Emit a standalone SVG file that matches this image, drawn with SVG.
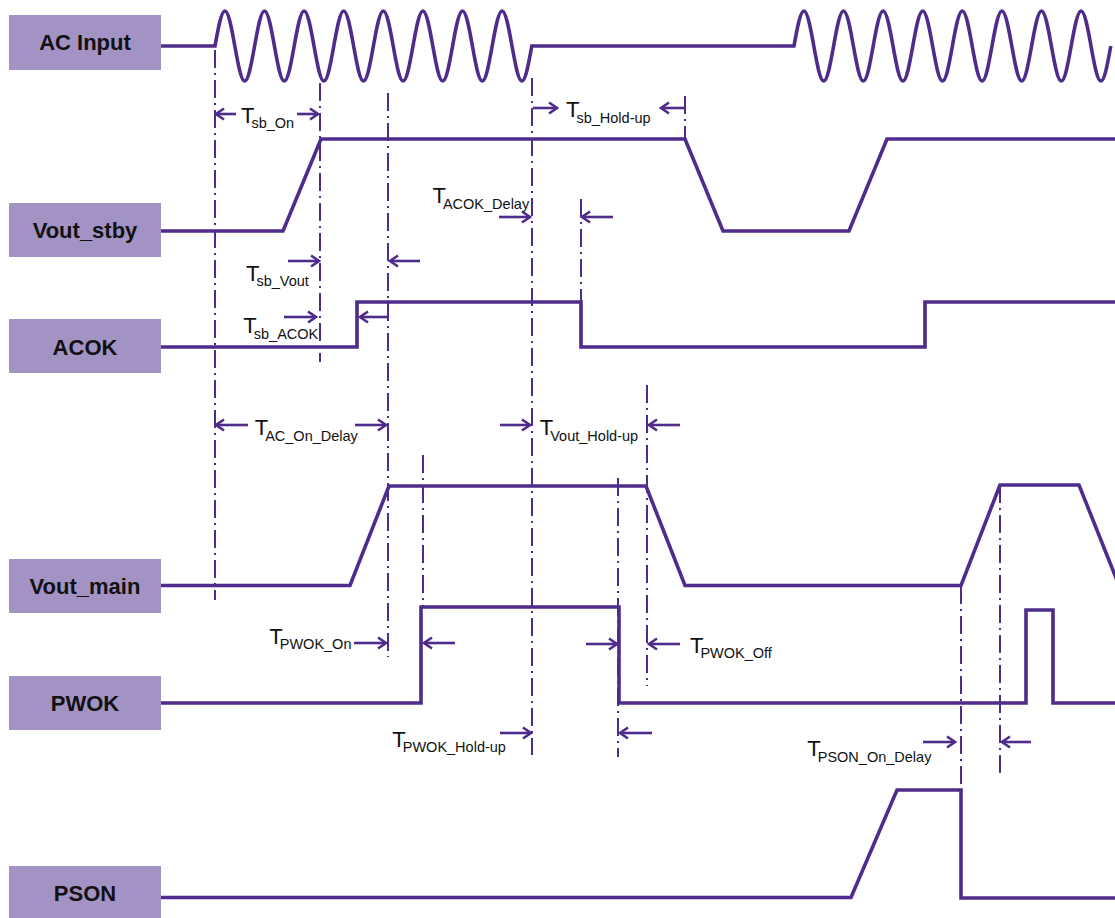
<svg xmlns="http://www.w3.org/2000/svg" width="1115" height="918" viewBox="0 0 1115 918">
<defs>
<style>
.box{fill:#a393c5}
.lbl{font-family:"Liberation Sans",Arial,sans-serif;font-weight:bold;font-size:22px;fill:#111;text-anchor:middle}
.sig{fill:none;stroke:#4f2c8c;stroke-width:3.6;stroke-linejoin:miter}
.guide{fill:none;stroke:#4f2c8c;stroke-width:2;stroke-dasharray:18 5 2 5}
.arr{fill:none;stroke:#4f2c8c;stroke-width:2.6;marker-end:url(#ah)}
.t{font-family:"Liberation Sans",Arial,sans-serif;font-size:22px;fill:#111;letter-spacing:-3px}
.s{font-size:14.5px;letter-spacing:0}
</style>
<marker id="ah" markerUnits="userSpaceOnUse" viewBox="-10 -7 12 14" refX="0" refY="0" markerWidth="12" markerHeight="14" orient="auto">
<path d="M-8,-5.5 L0,0 L-8,5.5" fill="none" stroke="#4f2c8c" stroke-width="2.6"/>
</marker>
</defs>
<rect width="1115" height="918" fill="#fff"/>

<g id="node-ac-input"><rect class="box" x="9" y="15" width="152" height="55"/><text class="lbl" x="85" y="50">AC Input</text></g>
<g id="node-vout-stby"><rect class="box" x="9" y="203" width="152" height="54"/><text class="lbl" x="85" y="238">Vout_stby</text></g>
<g id="node-acok"><rect class="box" x="9" y="319" width="152" height="54"/><text class="lbl" x="85" y="355">ACOK</text></g>
<g id="node-vout-main"><rect class="box" x="9" y="559" width="152" height="54"/><text class="lbl" x="85" y="594">Vout_main</text></g>
<g id="node-pwok"><rect class="box" x="9" y="676" width="152" height="54"/><text class="lbl" x="85" y="711">PWOK</text></g>
<g id="node-pson"><rect class="box" x="9" y="866" width="152" height="52"/><text class="lbl" x="85" y="901">PSON</text></g>

<g id="signals">
<path id="sig-ac" class="sig" d="M161,46 H215 c3.23,-17.93 6.315,-35 9.9,-35 s6.67,17.07 9.9,35 s6.315,35 9.9,35 s6.67,-17.07 9.9,-35
s6.315,-35 9.9,-35 s6.67,17.07 9.9,35 s6.315,35 9.9,35 s6.67,-17.07 9.9,-35
s6.315,-35 9.9,-35 s6.67,17.07 9.9,35 s6.315,35 9.9,35 s6.67,-17.07 9.9,-35
s6.315,-35 9.9,-35 s6.67,17.07 9.9,35 s6.315,35 9.9,35 s6.67,-17.07 9.9,-35
s6.315,-35 9.9,-35 s6.67,17.07 9.9,35 s6.315,35 9.9,35 s6.67,-17.07 9.9,-35
s6.315,-35 9.9,-35 s6.67,17.07 9.9,35 s6.315,35 9.9,35 s6.67,-17.07 9.9,-35
s6.315,-35 9.9,-35 s6.67,17.07 9.9,35 s6.315,35 9.9,35 s6.67,-17.07 9.9,-35
s6.315,-35 9.9,-35 s6.67,17.07 9.9,35 s6.315,35 9.9,35 s6.67,-17.07 9.9,-35
H794 c3.23,-17.93 6.315,-35 9.9,-35 s6.67,17.07 9.9,35 s6.315,35 9.9,35 s6.67,-17.07 9.9,-35
s6.315,-35 9.9,-35 s6.67,17.07 9.9,35 s6.315,35 9.9,35 s6.67,-17.07 9.9,-35
s6.315,-35 9.9,-35 s6.67,17.07 9.9,35 s6.315,35 9.9,35 s6.67,-17.07 9.9,-35
s6.315,-35 9.9,-35 s6.67,17.07 9.9,35 s6.315,35 9.9,35 s6.67,-17.07 9.9,-35
s6.315,-35 9.9,-35 s6.67,17.07 9.9,35 s6.315,35 9.9,35 s6.67,-17.07 9.9,-35
s6.315,-35 9.9,-35 s6.67,17.07 9.9,35 s6.315,35 9.9,35 s6.67,-17.07 9.9,-35
s6.315,-35 9.9,-35 s6.67,17.07 9.9,35 s6.315,35 9.9,35 s6.67,-17.07 9.9,-35
s6.315,-35 9.9,-35 s6.67,17.07 9.9,35 s6.315,35 9.9,35 s6.67,-17.07 9.9,-35"/>
<path id="sig-vout-stby" class="sig" d="M161,231 H283 L321,139 H685 L723,231 H849 L887,139 H1115"/>
<path id="sig-acok" class="sig" d="M161,347 H357 V302 H581 V347 H925 V302 H1115"/>
<path id="sig-vout-main" class="sig" d="M161,585.5 H350 L389,486 H646 L685,585.5 H961 L1000,485 H1079 L1120,588"/>
<path id="sig-pwok" class="sig" d="M161,703 H421 V607 H619 V703 H1026 V610 H1053 V703 H1115"/>
<path id="sig-pson" class="sig" d="M161,897.5 H851 L897,790 H961 V898 H1115"/>
</g>

<g id="connectors">
<g id="guides">
<line class="guide" x1="215" y1="50" x2="215" y2="600"/>
<line class="guide" x1="320" y1="83" x2="320" y2="362"/>
<line class="guide" x1="388" y1="93" x2="388" y2="657"/>
<line class="guide" x1="532" y1="78" x2="532" y2="755"/>
<line class="guide" x1="685" y1="96" x2="685" y2="138"/>
<line class="guide" x1="581" y1="199" x2="581" y2="302"/>
<line class="guide" x1="423" y1="455" x2="423" y2="606"/>
<line class="guide" x1="618" y1="478" x2="618" y2="757"/>
<line class="guide" x1="647" y1="385" x2="647" y2="686"/>
<line class="guide" x1="961" y1="586" x2="961" y2="790"/>
<line class="guide" x1="1000" y1="485" x2="1000" y2="778"/>
</g>
<g id="arrows">
<line class="arr" x1="236" y1="114" x2="216" y2="114"/>
<line class="arr" x1="297" y1="114" x2="318" y2="114"/>
<line class="arr" x1="533" y1="108" x2="557" y2="108"/>
<line class="arr" x1="685" y1="108" x2="661" y2="108"/>
<line class="arr" x1="499" y1="217" x2="530" y2="217"/>
<line class="arr" x1="613" y1="217" x2="582" y2="217"/>
<line class="arr" x1="288" y1="261" x2="319" y2="261"/>
<line class="arr" x1="420" y1="261" x2="390" y2="261"/>
<line class="arr" x1="284" y1="317" x2="316" y2="317"/>
<line class="arr" x1="388" y1="317" x2="360" y2="317"/>
<line class="arr" x1="248" y1="425" x2="216" y2="425"/>
<line class="arr" x1="355" y1="425" x2="386" y2="425"/>
<line class="arr" x1="500" y1="425" x2="530" y2="425"/>
<line class="arr" x1="680" y1="425" x2="649" y2="425"/>
<line class="arr" x1="354" y1="643" x2="386" y2="643"/>
<line class="arr" x1="455" y1="643" x2="424" y2="643"/>
<line class="arr" x1="586" y1="644" x2="617" y2="644"/>
<line class="arr" x1="680" y1="644" x2="649" y2="644"/>
<line class="arr" x1="500" y1="733" x2="531" y2="733"/>
<line class="arr" x1="652" y1="733" x2="620" y2="733"/>
<line class="arr" x1="923" y1="742" x2="955" y2="742"/>
<line class="arr" x1="1031" y1="742" x2="1002" y2="742"/>
</g>
</g>

<g id="timing-labels">
<text class="t" x="241" y="122.5">T<tspan class="s" dy="5">sb_On</tspan></text>
<text class="t" x="566" y="117">T<tspan class="s" dy="6">sb_Hold-up</tspan></text>
<text class="t" x="432.5" y="202.7">T<tspan class="s" dy="6.3">ACOK_Delay</tspan></text>
<text class="t" x="246" y="280.7">T<tspan class="s" dy="5.3">sb_Vout</tspan></text>
<text class="t" x="243.3" y="332.7">T<tspan class="s" dy="6.3">sb_ACOK</tspan></text>
<text class="t" x="254.7" y="435">T<tspan class="s" dy="5.6">AC_On_Delay</tspan></text>
<text class="t" x="539.8" y="435">T<tspan class="s" dy="5.5">Vout_Hold-up</tspan></text>
<text class="t" x="269.3" y="644.3">T<tspan class="s" dy="4.7">PWOK_On</tspan></text>
<text class="t" x="392.3" y="746.7">T<tspan class="s" dy="5">PWOK_Hold-up</tspan></text>
<text class="t" x="690" y="653">T<tspan class="s" dy="5.3">PWOK_Off</tspan></text>
<text class="t" x="807.3" y="756">T<tspan class="s" dy="5.7">PSON_On_Delay</tspan></text>
</g>
</svg>
